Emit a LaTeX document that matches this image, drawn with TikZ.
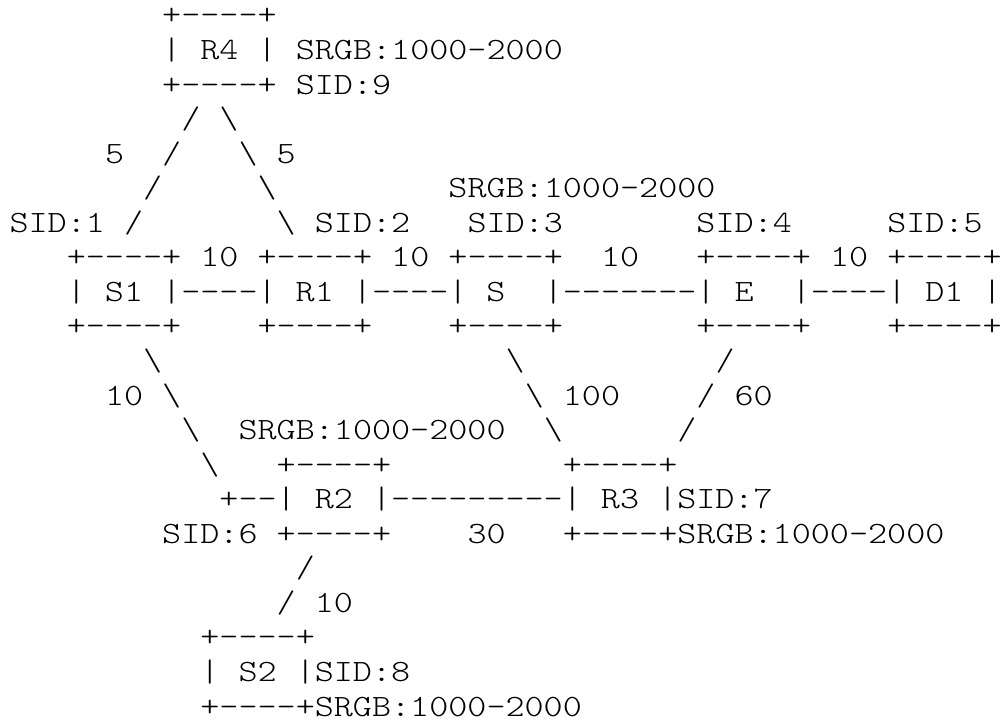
\documentclass[tikz,border=0pt]{standalone}
\usepackage{graphicx}
\usepackage{fontspec}
\newfontfamily\lmlt{lmmonolt10-regular.otf}
\newcommand\Tx[1]{\scalebox{1.172}[1]{#1}}
\newcommand\bs{\textbackslash}
\newcommand\bx{+-{}-{}-{}-+}
\tikzset{
  txt/.style={anchor=base west, inner sep=0pt, outer sep=0pt,
    font=\fontsize{31}{31}\selectfont\lmlt, text=black}
}
\newcommand\frag[4]{\node[txt] (#1) at (#2,#3) {\Tx{#4}};}
\begin{document}
\begin{tikzpicture}[x=19.08pt, y=-34.55pt]
\fill[white] (0pt,0pt) rectangle (1006pt,-722pt);
\path[use as bounding box] (0pt,0pt) rectangle (1006pt,-722pt);
\begin{scope}[shift={(9.6pt,-25pt)}]
% R4
\frag{r0a}{8}{0}{\bx}
\frag{r1a}{8}{1}{| R4 |}
\frag{r1b}{15}{1}{SRGB:1000-2000}
\frag{r2a}{8}{2}{\bx}
\frag{r2b}{15}{2}{SID:9}
\frag{r3a}{9}{3}{/}
\frag{r3b}{11}{3}{\bs}
\frag{r4a}{5}{4}{5}
\frag{r4b}{8}{4}{/}
\frag{r4c}{12}{4}{\bs}
\frag{r4d}{14}{4}{5}
\frag{r5a}{7}{5}{/}
\frag{r5b}{13}{5}{\bs}
\frag{r5c}{23}{5}{SRGB:1000-2000}
\frag{r6a}{0}{6}{SID:1}
\frag{r6b}{6}{6}{/}
\frag{r6c}{14}{6}{\bs}
\frag{r6d}{16}{6}{SID:2}
\frag{r6e}{24}{6}{SID:3}
\frag{r6f}{36}{6}{SID:4}
\frag{r6g}{46}{6}{SID:5}
% main row
\frag{r7a}{3}{7}{\bx}
\frag{r7b}{10}{7}{10}
\frag{r7c}{13}{7}{\bx}
\frag{r7d}{20}{7}{10}
\frag{r7e}{23}{7}{\bx}
\frag{r7f}{31}{7}{10}
\frag{r7g}{36}{7}{\bx}
\frag{r7h}{43}{7}{10}
\frag{r7i}{46}{7}{\bx}
\frag{r8a}{3}{8}{| S1 |-{}-{}-{}-| R1 |-{}-{}-{}-| S}
\frag{r8b}{28}{8}{|-{}-{}-{}-{}-{}-{}-| E}
\frag{r8c}{41}{8}{|-{}-{}-{}-| D1 |}
\frag{r9a}{3}{9}{\bx}
\frag{r9b}{13}{9}{\bx}
\frag{r9c}{23}{9}{\bx}
\frag{r9d}{36}{9}{\bx}
\frag{r9e}{46}{9}{\bx}
% lower part
\frag{r10a}{7}{10}{\bs}
\frag{r10b}{26}{10}{\bs}
\frag{r10c}{37}{10}{/}
\frag{r11a}{5}{11}{10}
\frag{r11b}{8}{11}{\bs}
\frag{r11c}{27}{11}{\bs{} 100}
\frag{r11d}{36}{11}{/ 60}
\frag{r12a}{9}{12}{\bs}
\frag{r12b}{12}{12}{SRGB:1000-2000}
\frag{r12c}{28}{12}{\bs}
\frag{r12d}{35}{12}{/}
\frag{r13a}{10}{13}{\bs}
\frag{r13b}{14}{13}{\bx}
\frag{r13c}{29}{13}{\bx}
\frag{r14a}{11}{14}{+-{}-| R2 |-{}-{}-{}-{}-{}-{}-{}-{}-| R3 |SID:7}
\frag{r15a}{8}{15}{SID:6 \bx}
\frag{r15b}{24}{15}{30}
\frag{r15c}{29}{15}{\bx SRGB:1000-2000}
\frag{r16a}{15}{16}{/}
\frag{r17a}{14}{17}{/ 10}
\frag{r18a}{10}{18}{\bx}
\frag{r19a}{10}{19}{| S2 |SID:8}
\frag{r20a}{10}{20}{\bx SRGB:1000-2000}
\end{scope}
\end{tikzpicture}
\end{document}
